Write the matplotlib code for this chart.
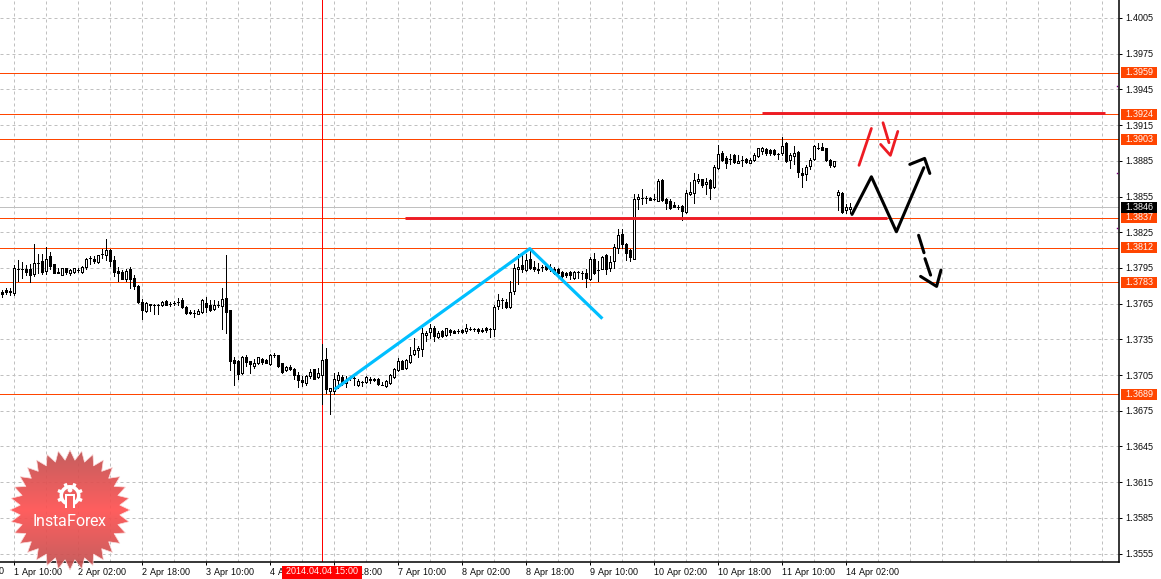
# EURUSD H1 candles with hand drawn levels and forecast lines
import matplotlib
matplotlib.use('Agg')
import matplotlib.pyplot as plt
from matplotlib.patches import Polygon, Wedge, Circle, Rectangle
import numpy as np

plt.rcParams['text.hinting'] = 'native'
plt.rcParams['text.hinting_factor'] = 1

# candle values in points (1e-5)
opens_pts = [137748,137764,137748,137742,137938,137944,137938,137938,137899,137994,
    138005,137927,138047,137986,137918,137893,137946,137904,137913,137935,
    137918,137955,138030,138022,137999,138070,138058,138098,138019,137921,
    137913,137854,137944,137868,137798,137661,137585,137650,137638,137638,
    137638,137675,137650,137658,137666,137683,137622,137582,137574,137563,
    137580,137658,137636,137605,137638,137630,137700,137594,137179,137165,
    137064,137204,137171,137126,137148,137182,137174,137143,137218,137216,
    137148,137092,137118,137098,137048,137006,136986,137042,137098,137036,
    137050,137182,136919,136919,137008,137036,136980,137022,137022,136966,
    136992,136992,137020,137020,137014,136969,136958,136983,137034,137092,
    137168,137109,137160,137227,137260,137269,137384,137412,137448,137370,
    137417,137386,137431,137420,137420,137428,137420,137440,137437,137434,
    137428,137445,137440,137440,137627,137678,137661,137622,137756,137944,
    137972,137932,138022,137960,137944,137958,137966,137958,137938,137938,
    137916,137910,137916,137865,137913,137910,137910,137854,138022,137935,
    137944,138056,137946,138008,138120,138232,138148,138098,138028,138532,
    138537,138534,138537,138526,138515,138691,138532,138509,138476,138464,
    138467,138417,138571,138579,138683,138694,138655,138686,138630,138792,
    138918,138873,138868,138901,138834,138859,138868,138834,138854,138890,
    138935,138952,138940,138938,138910,138915,138996,138854,138893,138924,
    138750,138739,138806,138865,138957,138968,138954,138854,138806,138562,
    138582,138436,138442]
closes_pts = [137731,137748,137756,137946,137938,137944,137916,137890,137988,137994,
    137916,138028,137966,137904,137904,137952,137913,137935,137946,137935,
    137955,138028,138030,138005,138056,138070,138103,138008,137916,137910,
    137860,137921,137854,137798,137666,137596,137658,137641,137638,137638,
    137661,137638,137650,137658,137666,137622,137571,137571,137574,137591,
    137678,137622,137594,137638,137638,137692,137580,137168,137151,137059,
    137204,137160,137140,137148,137199,137160,137151,137221,137218,137126,
    137076,137115,137098,137050,137011,136994,137039,137078,137020,137064,
    137174,136936,136938,137020,137048,136992,137008,137022,137022,137003,
    136992,137036,137006,137008,136975,136969,136997,137048,137104,137171,
    137101,137176,137221,137258,137280,137406,137406,137442,137378,137406,
    137378,137442,137409,137406,137420,137409,137448,137440,137437,137417,
    137417,137426,137440,137624,137683,137678,137624,137750,137952,137960,
    137944,138014,137946,137944,137930,137958,137944,137944,137910,137910,
    137882,137890,137890,137918,137913,137910,137862,138028,137910,137935,
    138044,137938,138002,138128,138224,138148,138072,138042,138526,138548,
    138537,138534,138523,138526,138683,138518,138492,138456,138462,138464,
    138425,138582,138590,138691,138700,138644,138672,138624,138800,138910,
    138854,138828,138868,138840,138851,138859,138842,138854,138901,138954,
    138957,138915,138915,138904,138910,138977,138845,138901,138912,138756,
    138728,138800,138859,138971,138957,138943,138856,138812,138845,138590,
    138422,138464,138464]
highs_pts = [137764,137778,137778,137974,138014,138000,137974,137986,138148,138070,
    138064,138126,138081,137986,137952,137952,137952,137944,137952,137952,
    137966,138030,138047,138047,138061,138112,138190,138112,138050,137955,
    137935,137938,137958,137888,137804,137692,137664,137650,137644,137644,
    137672,137678,137661,137675,137700,137697,137630,137596,137594,137602,
    137686,137708,137678,137680,137672,137778,138056,137594,137204,137176,
    137210,137218,137171,137188,137204,137196,137182,137227,137232,137216,
    137148,137126,137132,137112,137076,137039,137050,137098,137104,137112,
    137308,137274,136944,137070,137076,137050,137042,137042,137042,137014,
    136997,137042,137036,137025,137028,136992,137006,137056,137112,137196,
    137174,137182,137288,137364,137294,137448,137420,137476,137462,137420,
    137426,137448,137437,137428,137434,137434,137476,137454,137448,137445,
    137445,137451,137448,137636,137728,137694,137692,137840,137986,138064,
    138072,138064,138112,138008,137994,137974,137980,137980,137960,137952,
    137924,137918,137924,137924,137924,137924,137944,138042,138078,138008,
    138050,138064,138050,138148,138280,138280,138156,138106,138568,138568,
    138610,138554,138548,138574,138700,138694,138537,138526,138504,138476,
    138476,138602,138674,138744,138742,138700,138708,138694,138812,138980,
    138932,138890,138904,138904,138896,138890,138873,138873,138918,138960,
    138966,138957,138952,138952,138918,139050,139008,138912,138974,138932,
    138792,138812,138873,138980,138996,139002,138960,138862,138851,138602,
    138585,138484,138498]
lows_pts = [137706,137728,137720,137722,137840,137862,137888,137832,137879,137904,
    137896,137899,137938,137904,137904,137888,137899,137888,137904,137913,
    137904,137941,137980,137994,137994,138036,138019,137966,137879,137837,
    137854,137843,137781,137770,137652,137518,137580,137591,137560,137560,
    137630,137636,137633,137636,137638,137613,137566,137560,137535,137560,
    137574,137580,137588,137599,137624,137434,137406,137092,136966,137014,
    137059,137126,137064,137112,137143,137143,137148,137137,137204,137118,
    137070,137087,137090,137014,136950,136958,136964,137022,137014,137022,
    136804,136902,136720,136891,136944,136964,136952,137008,136964,136958,
    136958,136986,136986,137000,136964,136964,136952,136978,137028,137084,
    137098,137104,137154,137221,137204,137210,137336,137364,137336,137364,
    137372,137381,137389,137400,137406,137400,137406,137426,137420,137400,
    137409,137412,137370,137378,137602,137616,137616,137616,137728,137812,
    137916,137924,137944,137924,137910,137924,137932,137924,137902,137896,
    137848,137876,137854,137860,137868,137860,137790,137848,137902,137840,
    137938,137896,137924,137952,138072,138120,138016,138008,138022,138442,
    138484,138498,138520,138518,138509,138512,138442,138442,138459,138448,
    138352,138408,138565,138498,138666,138632,138568,138532,138624,138784,
    138845,138786,138820,138834,138828,138806,138834,138828,138848,138884,
    138910,138901,138901,138896,138868,138896,138840,138792,138820,138716,
    138630,138688,138778,138856,138946,138938,138848,138795,138795,138434,
    138408,138414,138408]

date_labels = ['1 Apr 10:00', '2 Apr 02:00', '2 Apr 18:00', '3 Apr 10:00', '4 Apr 02:00',
    '4 Apr 18:00', '7 Apr 10:00', '8 Apr 02:00', '8 Apr 18:00', '9 Apr 10:00',
    '10 Apr 02:00', '10 Apr 18:00', '11 Apr 10:00', '14 Apr 02:00']
price_ticks = [1.4005, 1.3975, 1.3945, 1.3915, 1.3885, 1.3855, 1.3825, 1.3795,
    1.3765, 1.3735, 1.3705, 1.3675, 1.3645, 1.3615, 1.3585, 1.3555]
levels = [1.3959, 1.3924, 1.3903, 1.3837, 1.3812, 1.3783, 1.3689]
last_price = 1.3846
cursor_bar = 80
cursor_label = '2014.04.04 15:00'

# hand drawn lines as (bar index, price)
blue_x = [83.1, 131.9, 150.05]
blue_y = [1.36930, 1.38112, 1.37524]
red_bars = [([189.9, 275.8], [1.39254, 1.39254]), ([100.6, 221.25], [1.38372, 1.38372])]
black_lines = [
    ([212.45, 217.3, 223.55, 230.4], [1.38400, 1.38716, 1.38254, 1.38792]),
    ([226.9, 230.6, 231.9], [1.38820, 1.38870, 1.38744]),
    ([229.1, 230.45], [1.38224, 1.38078]),
    ([230.7, 232.1], [1.38028, 1.37890]),
    ([229.6, 233.6, 234.7], [1.37879, 1.37795, 1.37932]),
]
red_lines = [
    ([214.2, 217.3], [1.38812, 1.39122]),
    ([220.2, 221.7], [1.39170, 1.39002]),
    ([219.6, 222.05, 223.9], [1.38988, 1.38896, 1.39097]),
]

W, H = 1161, 579
AX_W, AX_H = 1119.3, 562.3
PX = 0.72  # one pixel in points at dpi 100
ORANGE = '#FF4500'
FONT = 'Liberation Sans'

opens = np.array(opens_pts) * 1e-5
closes = np.array(closes_pts) * 1e-5
highs = np.array(highs_pts) * 1e-5
lows = np.array(lows_pts) * 1e-5
bars = np.arange(len(opens))

fig = plt.figure(figsize=(W / 100, H / 100), dpi=100, facecolor='white')
ax = fig.add_axes([0, (H - AX_H) / H, AX_W / W, AX_H / H])
# limits nudged so that 1px lines snap on the same pixel rows as the original
ax.set_xlim(-0.55, 279.275)
ax.set_ylim(1.35477, 1.40201)

# grid every 8 bars, labels every 16
major = 3 + 16 * np.arange(len(date_labels))
ax.set_xticks(major, labels=date_labels, ha='left', fontsize=6.8, family=FONT)
ax.set_xticks([b for b in range(3, 279, 8) if b not in major], minor=True)
ax.set_yticks(price_ticks)
ax.set_yticklabels([f'{p:.4f}' for p in price_ticks], fontsize=6.8, family=FONT)
ax.yaxis.tick_right()
ax.tick_params(axis='x', which='major', length=1.8, width=PX, pad=2.4)
ax.tick_params(axis='x', which='minor', length=0)
ax.tick_params(axis='y', length=2.2, width=PX, pad=2.2)
ax.grid(which='both', color='#C0C0C0', lw=PX, ls=(0, (3, 3)), zorder=0)
ax.set_axisbelow(True)
ax.spines['top'].set_visible(False)
ax.spines['left'].set_visible(False)
ax.spines['right'].set_linewidth(1.1)
ax.spines['bottom'].set_linewidth(1.1)

# levels and cursor go under the candles
ax.axhline(last_price, color='#C0C0C0', lw=PX, zorder=1)
for lev in levels:
    ax.axhline(lev, color=ORANGE, lw=PX, zorder=1.5)
ax.axvline(cursor_bar, color='#FF0000', lw=PX, zorder=1.5)

# candles
ax.vlines(bars, lows, highs, color='black', lw=PX, zorder=2, antialiased=False)
is_up = closes >= opens
body_low = np.minimum(opens, closes)
body_h = np.abs(closes - opens)
ax.bar(bars[is_up], body_h[is_up], bottom=body_low[is_up], width=0.5, facecolor='white',
       edgecolor='black', lw=PX, zorder=3, antialiased=False)
ax.bar(bars[~is_up], body_h[~is_up], bottom=body_low[~is_up], width=0.5, facecolor='black',
       edgecolor='black', lw=PX, zorder=3, antialiased=False)

# hand drawn stuff
ax.plot(blue_x, blue_y, color='#00BFFF', lw=2.3, zorder=5, solid_capstyle='butt')
for x, y in red_bars:
    ax.plot(x, y, color='#ED1C24', lw=2.1, zorder=5, solid_capstyle='butt')
for x, y in black_lines:
    ax.plot(x, y, color='black', lw=2.2, zorder=6, solid_capstyle='round')
for x, y in red_lines:
    ax.plot(x, y, color='#ED1C24', lw=2.0, zorder=6, solid_capstyle='round')

# price tags on the right axis
ytr = ax.get_yaxis_transform()
tag_h = 11 / 11905
for lev in levels + [last_price]:
    col = 'black' if lev == last_price else ORANGE
    ax.add_patch(Rectangle((1121 / AX_W, lev - tag_h / 2), 36 / AX_W, tag_h, transform=ytr,
                           facecolor=col, edgecolor='none', clip_on=False, zorder=8))
    ax.text(1139 / AX_W, lev, f'{lev:.4f}', transform=ytr, ha='center', va='center', color='white',
            fontsize=6.8, family=FONT, clip_on=False, zorder=9)

# cursor date tag, hides the label under it
xtr = ax.get_xaxis_transform()
ax.add_patch(Rectangle((cursor_bar - 10, -16.7 / AX_H), 20, 13 / AX_H, transform=xtr,
                       facecolor='#FF0000', edgecolor='none', clip_on=False, zorder=8))
ax.text(cursor_bar, -9.4 / AX_H, cursor_label, transform=xtr, ha='center', va='center',
        color='white', fontsize=6.8, family=FONT, clip_on=False, zorder=9)

# overlay in pixels for the cut off label, logo and stray dots
ov = fig.add_axes([0, 0, 1, 1], zorder=10)
ov.patch.set_alpha(0)
ov.axis('off')
ov.text(3.5, 571.7, '1 Apr 02:00', ha='right', va='center', fontsize=6.8, family=FONT)
ov.plot([1116.5, 1116.5, 1116.5], [86, 172.7, 228], ls='none', marker='s', ms=1.0, mew=0, color='#800080')

cx, cy = 70, 510
n_spikes = 32
ang = np.linspace(0, 2 * np.pi, 2 * n_spikes, endpoint=False)
rad = np.where(np.arange(2 * n_spikes) % 2 == 0, 60, 50)
star = Polygon(np.c_[cx + rad * np.cos(ang), cy + rad * np.sin(ang)], closed=True,
               facecolor='none', edgecolor='#FBDADA', lw=0.5, zorder=2)
ov.add_patch(star)
grad = np.zeros((120, 2, 4))
t = np.abs(np.linspace(-1, 1, 120))[:, None]
grad[..., 0] = (255 - 65 * t) / 255
grad[..., 1] = 80 / 255
grad[..., 2] = 80 / 255
grad[..., 3] = 0.92
im = ov.imshow(grad, extent=[cx - 61, cx + 61, cy + 61, cy - 61], aspect='auto', zorder=1)
im.set_clip_path(star)

# gear and figure of the logo
ov.add_patch(Wedge((cx, 495.5), 10.5, 120, 60, width=3.5, facecolor='white', edgecolor='none', zorder=3))
for a in np.radians(np.arange(22.5, 360, 45)):
    if abs(np.degrees(a) - 90) > 30:
        ov.plot([cx + 9 * np.cos(a), cx + 13 * np.cos(a)], [495.5 + 9 * np.sin(a), 495.5 + 13 * np.sin(a)],
                color='white', lw=2.4, solid_capstyle='butt', zorder=3)
ov.add_patch(Circle((cx, 490), 2.4, facecolor='white', edgecolor='none', zorder=3))
ov.add_patch(Rectangle((cx - 5, 494), 10, 2, facecolor='white', edgecolor='none', zorder=3))
ov.add_patch(Rectangle((cx - 5, 494), 2.2, 14, facecolor='white', edgecolor='none', zorder=3))
ov.add_patch(Rectangle((cx + 2.8, 494), 2.2, 14, facecolor='white', edgecolor='none', zorder=3))
ov.text(cx, 521.5, 'InstaForex', ha='center', va='center', color='white', fontsize=11.6, family='Roboto', zorder=3)

ov.set_xlim(0, W)
ov.set_ylim(H, 0)

plt.savefig('out.png', dpi=100)
